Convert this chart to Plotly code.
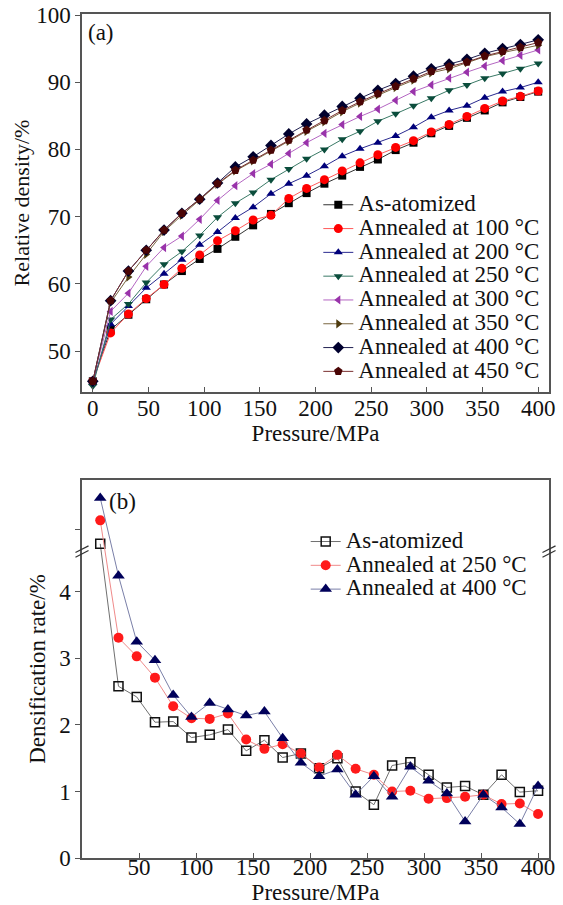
import plotly.graph_objects as go

FONT = "Liberation Serif"

# --- (a) relative density vs compaction pressure ---
pressure_a = list(range(0, 401, 16))

rd_as_atomized = [45.5, 53.2, 55.4, 57.7, 59.9, 61.9, 63.7, 65.2, 67.0, 68.7, 70.4, 72.0, 73.5,
                  74.9, 76.1, 77.4, 78.5, 79.9, 81.0, 82.4, 83.5, 84.7, 85.8, 87.0, 87.8, 88.6]
rd_100 = [45.5, 52.7, 55.5, 57.8, 59.9, 62.3, 64.3, 66.4, 67.9, 69.5, 70.2, 72.7, 74.2,
          75.5, 76.8, 78.0, 79.2, 80.3, 81.3, 82.6, 83.7, 84.9, 86.1, 87.2, 87.9, 88.7]
rd_200 = [45.3, 54.0, 56.7, 59.4, 61.5, 63.6, 65.8, 67.7, 69.8, 71.4, 73.4, 74.9, 76.1,
          77.5, 79.0, 80.1, 81.0, 82.0, 83.3, 84.8, 85.8, 86.5, 87.7, 88.6, 89.2, 90.0]
rd_250 = [44.8, 54.7, 57.0, 60.2, 62.9, 64.8, 67.2, 69.9, 72.0, 73.6, 75.5, 77.1, 78.6,
          80.0, 81.5, 82.7, 84.2, 85.3, 86.5, 87.6, 88.8, 89.6, 90.6, 91.3, 92.0, 92.8]
rd_300 = [45.5, 55.9, 58.6, 62.6, 65.4, 67.1, 69.6, 72.4, 74.6, 76.4, 77.8, 79.4, 81.0,
          82.4, 83.7, 84.9, 86.0, 87.3, 88.6, 89.6, 90.6, 91.5, 92.4, 93.2, 94.0, 94.8]
rd_350 = [45.5, 57.2, 61.0, 64.4, 67.8, 70.2, 72.5, 74.8, 76.8, 78.3, 79.8, 81.2, 82.7,
          84.1, 85.6, 86.9, 88.1, 89.2, 90.3, 91.4, 92.0, 92.9, 93.8, 94.4, 95.0, 95.5]
rd_400 = [45.5, 57.5, 61.9, 65.0, 68.0, 70.5, 72.6, 75.0, 77.4, 78.9, 80.6, 82.3, 83.8,
          85.1, 86.4, 87.6, 88.8, 89.8, 90.9, 92.0, 92.7, 93.4, 94.3, 95.0, 95.6, 96.3]
rd_450 = [45.5, 57.5, 61.9, 65.0, 68.0, 70.5, 72.6, 74.9, 76.9, 78.4, 79.9, 81.4, 82.9,
          84.3, 85.8, 87.1, 88.3, 89.4, 90.5, 91.6, 92.3, 93.0, 93.9, 94.6, 95.2, 95.9]

names_a = ["As-atomized", "Annealed at 100 °C", "Annealed at 200 °C", "Annealed at 250 °C",
           "Annealed at 300 °C", "Annealed at 350 °C", "Annealed at 400 °C", "Annealed at 450 °C"]
values_a = [rd_as_atomized, rd_100, rd_200, rd_250, rd_300, rd_350, rd_400, rd_450]
colors_a = ["#000000", "#ff0000", "#00007a", "#0b4d3c", "#9933aa", "#4d3a0d", "#00002e", "#4a0505"]
lines_a = ["#333333", "#ff5a5a", "#2a2a90", "#3a7a66", "#b466c2", "#7a6640", "#202050", "#7a3030"]
symbols_a = ["square", "circle", "triangle-up", "triangle-down", "triangle-left",
             "triangle-right", "diamond", "pentagon"]

# --- (b) densification rate, first step sits above the axis break ---
pressure_b = list(range(16, 401, 16))

rate_as_atomized = [7.7, 2.58, 2.42, 2.04, 2.05, 1.81, 1.85, 1.93, 1.61, 1.77, 1.51, 1.57, 1.35,
                    1.50, 1.00, 0.80, 1.39, 1.44, 1.25, 1.06, 1.08, 0.95, 1.25, 0.99, 1.01]
rate_250 = [9.9, 3.31, 3.03, 2.71, 2.28, 2.10, 2.09, 2.17, 1.78, 1.64, 1.71, 1.57, 1.36,
            1.55, 1.34, 1.25, 1.00, 1.01, 0.89, 0.90, 0.92, 0.95, 0.81, 0.82, 0.66]
rate_400 = [12.0, 4.24, 3.25, 2.97, 2.45, 2.12, 2.33, 2.23, 2.14, 2.20, 1.80, 1.43, 1.23,
            1.33, 0.95, 1.23, 0.92, 1.37, 1.16, 0.97, 0.55, 0.95, 0.76, 0.51, 1.08]

names_b = ["As-atomized", "Annealed at 250 °C", "Annealed at 400 °C"]
values_b = [rate_as_atomized, rate_250, rate_400]

BREAK_AT = 4.6
UPPER_START = 6.95
UPPER_SCALE = 0.1605


def on_broken_axis(v):
    # squeeze values above the break into the short top segment
    if v <= BREAK_AT:
        return v
    return BREAK_AT + (v - UPPER_START) * UPPER_SCALE


def legend_name(text):
    return f'<span style="font-size:23px">{text}</span>'


fig = go.Figure()

for name, vals, col, lcol, sym in zip(names_a, values_a, colors_a, lines_a, symbols_a):
    size = 9 if sym in ("diamond", "pentagon", "circle") else 8
    fig.add_trace(go.Scatter(
        x=pressure_a, y=vals, mode="lines+markers", name=legend_name(name),
        line=dict(color=lcol, width=1),
        marker=dict(symbol=sym, size=size, color=col, line=dict(width=0)),
        xaxis="x", yaxis="y", legend="legend",
    ))

styles_b = [
    dict(line="#707070", marker=dict(symbol="square-open", size=9, color="#111111",
                                     line=dict(width=1.5, color="#111111"))),
    dict(line="#f08a8a", marker=dict(symbol="circle", size=10, color="#ff1a1a")),
    dict(line="#7a7fa8", marker=dict(symbol="triangle-up", size=11, color="#00005a")),
]
for name, vals, st in zip(names_b, values_b, styles_b):
    fig.add_trace(go.Scatter(
        x=pressure_b, y=[on_broken_axis(v) for v in vals], mode="lines+markers",
        name=legend_name(name), line=dict(color=st["line"], width=1), marker=st["marker"],
        xaxis="x2", yaxis="y2", legend="legend2",
    ))

axis_style = dict(showline=True, mirror=True, linecolor="#555555", linewidth=1.5,
                  showgrid=False, zeroline=False, tickcolor="#555555", ticklen=5,
                  tickwidth=1.2, tickfont=dict(family=FONT, size=23, color="#111111"),
                  automargin=False)

upper_tick = on_broken_axis(9)

fig.update_layout(
    width=563, height=905,
    margin=dict(l=82, r=14, t=14, b=47),
    paper_bgcolor="white", plot_bgcolor="white",
    font=dict(family=FONT, size=23, color="#111111"),
    xaxis=dict(axis_style, domain=[0, 1], anchor="y", range=[-9.7, 409.7],
               tickvals=list(range(0, 401, 50)), ticks="inside", ticklabelstandoff=-5,
               title=dict(text="Pressure/MPa", standoff=1, font=dict(family=FONT, size=23))),
    yaxis=dict(axis_style, domain=[0.5521, 1], anchor="x", range=[43.9, 100.15],
               tickvals=list(range(50, 101, 10)), ticks="outside",
               title=dict(text="Relative density/%", standoff=0, font=dict(family=FONT, size=22))),
    xaxis2=dict(axis_style, domain=[0, 1], anchor="y2", range=[0, 409.6],
                tickvals=list(range(50, 401, 50)), ticks="inside", ticklabelstandoff=-12,
                title=dict(text="Pressure/MPa", standoff=12, font=dict(family=FONT, size=23))),
    yaxis2=dict(axis_style, domain=[0, 0.4479], anchor="x2", range=[0, 5.68],
                tickvals=[0, 1, 2, 3, 4, upper_tick], ticktext=["0", "1", "2", "3", "4", ""],
                ticks="outside",
                title=dict(text="Densification rate/%", standoff=7, font=dict(family=FONT, size=23))),
    legend=dict(x=0.506, y=0.794, xanchor="left", yanchor="top", bgcolor="rgba(0,0,0,0)",
                font=dict(family=FONT, size=16), itemwidth=30, tracegroupgap=0),
    legend2=dict(x=0.479, y=0.395, xanchor="left", yanchor="top", bgcolor="rgba(0,0,0,0)",
                 font=dict(family=FONT, size=16), itemwidth=30, tracegroupgap=0),
    showlegend=True,
)

fig.add_annotation(text="(a)", x=0.041, y=0.95, xref="x domain", yref="y domain",
                   xanchor="center", yanchor="middle", showarrow=False,
                   font=dict(family=FONT, size=23))
fig.add_annotation(text="(b)", x=0.086, y=0.942, xref="x2 domain", yref="y2 domain",
                   xanchor="center", yanchor="middle", showarrow=False,
                   font=dict(family=FONT, size=23))

# --- axis break marks on both sides of panel (b) ---
for xs in (0, 1):
    for dy in (0, 0.07):
        fig.add_shape(type="line", xref="x2 domain", yref="y2",
                      x0=xs - 0.014, x1=xs + 0.014, y0=BREAK_AT - 0.08 + dy, y1=BREAK_AT + 0.02 + dy,
                      line=dict(color="#333333", width=1.2))

# page body margin would push the figure out of the window
fig.write_html("out.html", config={"displayModeBar": False},
               post_script="document.body.style.margin='0px';")
